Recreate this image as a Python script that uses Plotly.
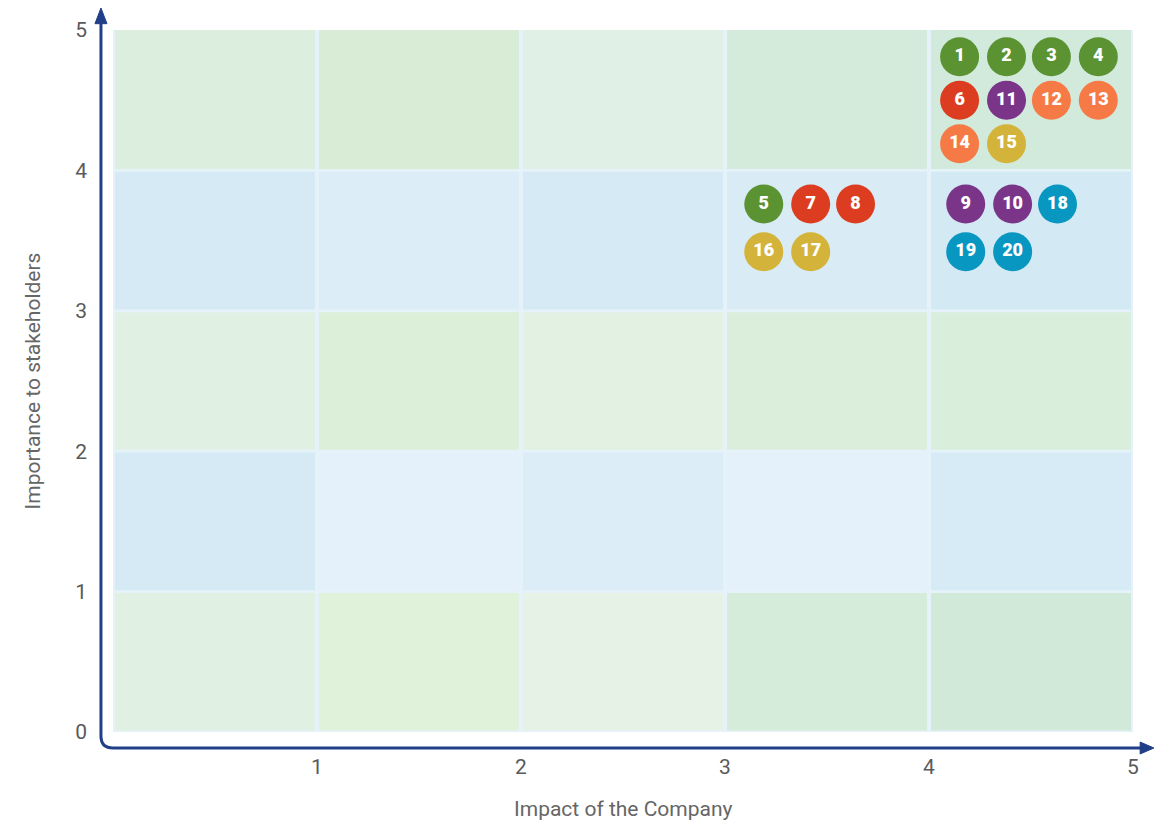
import plotly.graph_objects as go

# ---- data ----
labels = ["1", "2", "3", "4", "6", "11", "12", "13", "14", "15",
          "5", "7", "8", "16", "17", "9", "10", "18", "19", "20"]
impact = [4.15, 4.38, 4.60, 4.83, 4.15, 4.38, 4.60, 4.83, 4.15, 4.38,
          3.19, 3.42, 3.64, 3.19, 3.42, 4.18, 4.41, 4.63, 4.18, 4.41]
importance = [4.81, 4.81, 4.81, 4.81, 4.50, 4.50, 4.50, 4.50, 4.19, 4.19,
              3.76, 3.76, 3.76, 3.42, 3.42, 3.76, 3.76, 3.76, 3.42, 3.42]
groups = ["green", "green", "green", "green", "red", "purple", "orange", "orange", "orange", "yellow",
          "green", "red", "red", "yellow", "yellow", "purple", "purple", "teal", "teal", "teal"]
group_colors = {"green": "#5b9332", "red": "#dc3d20", "purple": "#7a3589",
                "orange": "#f57a45", "yellow": "#d4b33a", "teal": "#0797c0"}

x_ticks = [1, 2, 3, 4, 5]
y_ticks = [0, 1, 2, 3, 4, 5]
x_title = "Impact of the Company"
y_title = "Importance to stakeholders"

# cell colours, rows from bottom (0-1) to top (4-5), columns left to right
cell_colors = [
    ["#e0f0e2", "#e0f2da", "#e5f2e5", "#d6ecdb", "#d0e9d9"],
    ["#d6eaf5", "#e4f1fa", "#dcedf7", "#e5f1fa", "#d7ebf6"],
    ["#e0f0e3", "#dcefd8", "#e3f1e3", "#daeedb", "#d9eedb"],
    ["#d5eaf5", "#dcedf7", "#d6eaf6", "#d9ecf6", "#d3e9f4"],
    ["#dcefdf", "#d9ecd6", "#e1f0e6", "#d4ebdc", "#d2eadb"],
]

fig = go.Figure()

for g, col in group_colors.items():
    idx = [i for i, gg in enumerate(groups) if gg == g]
    fig.add_trace(go.Scatter(
        x=[impact[i] for i in idx], y=[importance[i] for i in idx],
        text=[labels[i] for i in idx], mode="markers+text",
        marker=dict(size=39, color=col, line=dict(width=0)),
        texttemplate="%{text}", textposition="middle center",
        textfont=dict(family="Roboto", size=18, color="white", weight=900),
        name=g, showlegend=False, hoverinfo="text", cliponaxis=False,
    ))

shapes = []
# light frame
shapes.append(dict(type="rect", xref="x", yref="y", x0=-0.015, x1=5.01, y0=-0.05, y1=5.05,
                   fillcolor="#e6f2f9", line=dict(width=0), layer="below"))
for r, row in enumerate(cell_colors):
    for c, colr in enumerate(row):
        shapes.append(dict(type="rect", xref="x", yref="y",
                           x0=c + 0.01, x1=c + 1 - 0.01, y0=r + 0.01, y1=r + 1 - 0.01 + (0.03 if r == 4 else 0),
                           fillcolor=colr, line=dict(width=0), layer="below"))

axis_col = "#203f87"
# axes with rounded corner (paper coordinates)
x0p, y0p = -0.0118, -0.0228
rx, ry = 0.0118, 0.0171
shapes.append(dict(type="path", xref="paper", yref="paper",
                   path=(f"M {x0p} 1.02 L {x0p} {y0p + ry} "
                         f"Q {x0p} {y0p} {x0p + rx} {y0p} L 1.012 {y0p}"),
                   line=dict(color=axis_col, width=3), layer="above"))
# arrow heads
shapes.append(dict(type="path", xref="paper", yref="paper",
                   path=f"M {x0p - 0.0059} 1.009 L {x0p} 1.0313 L {x0p + 0.0059} 1.009 Z",
                   fillcolor=axis_col, line=dict(color=axis_col, width=1), layer="above"))
shapes.append(dict(type="path", xref="paper", yref="paper",
                   path=f"M 1.007 {y0p - 0.0085} L 1.0205 {y0p} L 1.007 {y0p + 0.0085} Z",
                   fillcolor=axis_col, line=dict(color=axis_col, width=1), layer="above"))

fig.update_layout(
    width=1147, height=816,
    margin=dict(l=105, r=22, t=22, b=92, autoexpand=False),
    paper_bgcolor="white", plot_bgcolor="white",
    shapes=shapes,
    font=dict(family="Roboto", color="#5a5a5a"),
    annotations=[dict(text=x_title, xref="paper", yref="paper", x=0.5, y=-0.109,
                      xanchor="center", yanchor="middle", showarrow=False,
                      font=dict(size=21, color="#666666"))],
    xaxis=dict(range=[0, 5], tickvals=x_ticks, showgrid=False, zeroline=False, showline=False,
               ticks="", tickfont=dict(size=21, color="#5a5a5a"), ticklabelstandoff=20,
               automargin=False, fixedrange=True),
    yaxis=dict(range=[0, 5], tickvals=y_ticks, showgrid=False, zeroline=False, showline=False,
               ticks="", tickfont=dict(size=21, color="#5a5a5a"), ticklabelstandoff=25,
               title=dict(text=y_title, font=dict(size=21, color="#666666"), standoff=28),
               automargin=False, fixedrange=True),
)

fig.write_html("out.html")
